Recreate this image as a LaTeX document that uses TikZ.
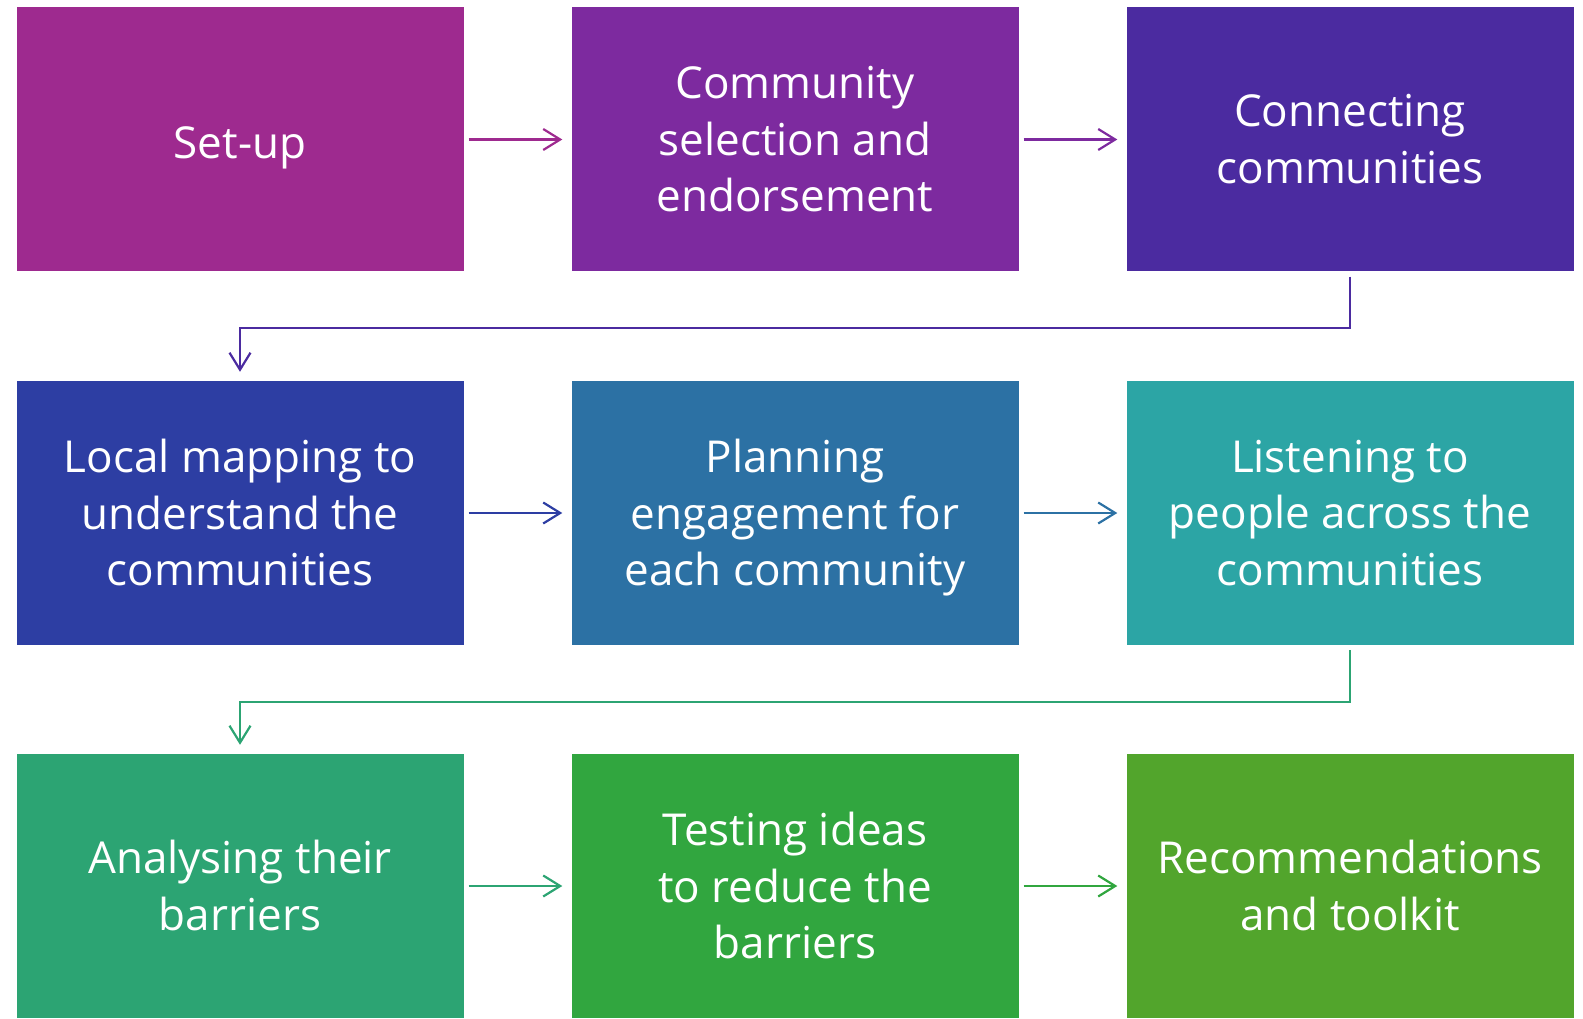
\documentclass[tikz,border=0pt]{standalone}
\usepackage{fontspec}
\setmainfont{Open Sans}
\usetikzlibrary{arrows.meta}
\definecolor{c1}{HTML}{9E2A8F}
\definecolor{c2}{HTML}{7D2A9F}
\definecolor{c3}{HTML}{4B2BA0}
\definecolor{c4}{HTML}{2D3EA3}
\definecolor{c5}{HTML}{2C71A4}
\definecolor{c6}{HTML}{2CA5A5}
\definecolor{c7}{HTML}{2CA473}
\definecolor{c8}{HTML}{31A63F}
\definecolor{c9}{HTML}{52A52C}
\begin{document}
\begin{tikzpicture}[x=1pt,y=-1pt,
  box/.style={fill=#1,draw=none,minimum width=447pt,minimum height=264pt,
    text=white,align=center,inner sep=0pt,
    font=\fontsize{44}{56.5}\selectfont,
    execute at begin node=\strut, execute at end node=\strut},
  lbl/.style={text=white,align=center,inner sep=0pt,yshift=-8pt,
    font=\fontsize{44}{56.5}\selectfont,
    execute at begin node=\strut, execute at end node=\strut},
  conn/.style={draw=#1,line width=2.2pt,-{Straight Barb[length=17pt,width=21pt,line width=2.2pt]},
    shorten <=5pt,shorten >=9pt}]
\useasboundingbox (0,0) rectangle (1583,1019);
\node[box=c1] (b1) at (240,139.5) {};
\node[box=c2] (b2) at (795,139.5) {};
\node[box=c3] (b3) at (1350,139.5) {};
\node[box=c4] (b4) at (240,513) {};
\node[box=c5] (b5) at (795,513) {};
\node[box=c6] (b6) at (1350,513) {};
\node[box=c7] (b7) at (240,886) {};
\node[box=c8] (b8) at (795,886) {};
\node[box=c9] (b9) at (1350,886) {};
\node[lbl] (t1) at (b1) {Set-up};
\node[lbl] (t2) at (b2) {Community\\selection and\\endorsement};
\node[lbl] (t3) at (b3) {Connecting\\communities};
\node[lbl] (t4) at (b4) {Local mapping to\\understand the\\communities};
\node[lbl] (t5) at (b5) {Planning\\engagement for\\each community};
\node[lbl] (t6) at (b6) {Listening to\\people across the\\communities};
\node[lbl] (t7) at (b7) {Analysing their\\barriers};
\node[lbl] (t8) at (b8) {Testing ideas\\to reduce the\\barriers};
\node[lbl] (t9) at (b9) {Recommendations\\and toolkit};
\draw[conn=c1] (b1) -- (b2);
\draw[conn=c2] (b2) -- (b3);
\draw[conn=c4] (b4) -- (b5);
\draw[conn=c5] (b5) -- (b6);
\draw[conn=c7] (b7) -- (b8);
\draw[conn=c8] (b8) -- (b9);
\coordinate (m1) at (1350,328);
\coordinate (m2) at (1350,702);
\draw[conn=c3] (b3.south) -- (m1) -| (b4.north);
\draw[conn=c7] (b6.south) -- (m2) -| (b7.north);
\end{tikzpicture}
\end{document}
